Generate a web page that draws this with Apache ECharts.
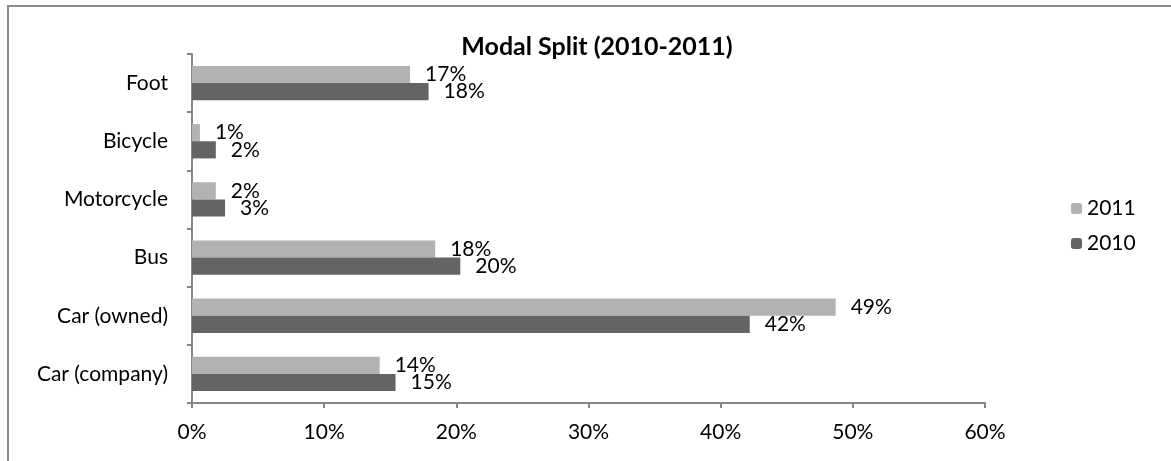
<!DOCTYPE html>
<html>
<head>
<meta charset="utf-8">
<script src="https://cdn.jsdelivr.net/npm/echarts@6/dist/echarts.min.js"></script>
<style>
  html, body { margin: 0; padding: 0; background: #fff; }
  #chart { width: 1171px; height: 461px; }
</style>
</head>
<body>
<div id="chart"></div>
<script>
  // categories bottom to top (y axis starts at bottom)
  var modes = ['Car (company)', 'Car (owned)', 'Bus', 'Motorcycle', 'Bicycle', 'Foot'];
  var share2011 = [14.2, 48.7, 18.4, 1.8, 0.6, 16.5];
  var share2010 = [15.4, 42.2, 20.3, 2.5, 1.8, 17.9];
  var xTicks = [0, 10, 20, 30, 40, 50, 60];

  var font = 'Lato, "Open Sans", "Noto Sans", sans-serif';
  var axisGrey = '#868686';

  var myChart = echarts.init(document.getElementById('chart'));

  function barLabel(){
    return {
      show: true,
      position: 'right',
      distance: 15,
      color: '#000',
      fontFamily: font,
      fontSize: 21,
      formatter: function(p){ return Math.round(p.value) + '%'; }
    };
  }

  var option = {
    animation: false,
    title: {
      text: 'Modal Split (2010-2011)',
      left: 592,
      top: 29,
      textAlign: 'center',
      textStyle: { fontFamily: font, fontSize: 25, fontWeight: 'bold', color: '#000' }
    },
    legend: {
      orient: 'vertical',
      left: 1066,
      top: 193,
      itemWidth: 11,
      itemHeight: 11,
      itemGap: 14,
      data: ['2011', '2010'],
      textStyle: { fontFamily: font, fontSize: 21, color: '#000' }
    },
    grid: { left: 192, right: 186, top: 54, bottom: 58, containLabel: false },
    xAxis: {
      type: 'value',
      min: xTicks[0],
      max: xTicks[xTicks.length - 1],
      interval: xTicks[1] - xTicks[0],
      splitLine: { show: false },
      axisLine: { show: true, lineStyle: { color: axisGrey, width: 2 } },
      axisTick: { show: true, length: 5, lineStyle: { color: axisGrey, width: 2 } },
      axisLabel: { formatter: '{value}%', margin: 19, color: '#000', fontFamily: font, fontSize: 21 }
    },
    yAxis: {
      type: 'category',
      data: modes,
      axisLine: { show: true, lineStyle: { color: axisGrey, width: 2 } },
      axisTick: { show: true, length: 5, lineStyle: { color: axisGrey, width: 2 } },
      axisLabel: { margin: 24, color: '#000', fontFamily: font, fontSize: 21 }
    },
    series: [
      {
        name: '2011',
        type: 'bar',
        data: share2011,
        barGap: '0%',
        barCategoryGap: '41%',
        itemStyle: { color: '#b2b2b2' },
        label: barLabel()
      },
      {
        name: '2010',
        type: 'bar',
        data: share2010,
        barGap: '0%',
        barCategoryGap: '41%',
        itemStyle: { color: '#646464' },
        label: barLabel()
      }
    ],
    graphic: [
      {
        type: 'polyline',
        shape: { points: [[8, 461], [8, 6], [1171, 6]] },
        style: { stroke: '#8c8c8c', lineWidth: 2, fill: null }
      }
    ]
  };

  myChart.setOption(option);
</script>
</body>
</html>
